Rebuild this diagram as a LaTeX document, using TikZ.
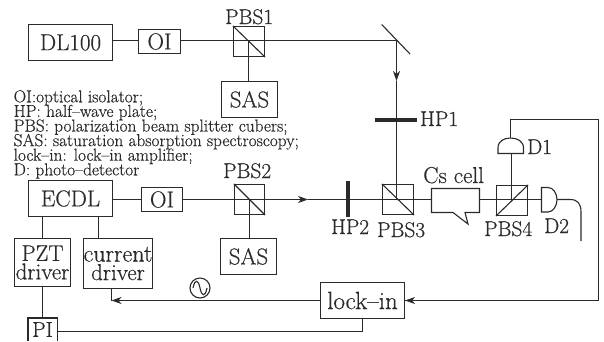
\documentclass[tikz,border=0pt]{standalone}
\usepackage{fontspec}
\setmainfont{Latin Modern Roman}[RawFeature={embolden=0.5}]
\usetikzlibrary{arrows.meta,calc}
\definecolor{ink}{HTML}{2A2A2A}
\newcommand{\fs}[2]{\fontsize{#1}{#2}\selectfont\lineskiplimit=-20pt\relax}
\tikzset{
  line/.style={draw=ink,line width=1.1pt},
  box/.style={draw=ink,line width=1.1pt,rectangle,inner sep=0pt,text=ink,font=\fs{23}{18.5},align=center},
  lab/.style={text=ink,inner sep=0pt,font=\fs{21.3}{21.3},anchor=base west},
  wave/.style={draw=ink,line width=3.6pt},
  arr/.style={line,-{Stealth[length=10pt,width=7pt,inset=3pt]}}
}
\begin{document}
\begin{tikzpicture}[x=1pt,y=-1pt]
\useasboundingbox (0,0) rectangle (604,341);
% boxes
\node[box,minimum width=84pt,minimum height=36pt] (dl) at (70.5,42.5) {DL100};
\node[box,minimum width=42pt,minimum height=24pt] (oia) at (159.5,41.5) {OI};
\node[box,minimum width=31pt,minimum height=30pt] (pbsa) at (249,41.5) {};
\node[box,minimum width=56pt,minimum height=36pt] (sasa) at (249.5,99.5) {SAS};
\node[box,minimum width=84pt,minimum height=36pt] (ecdl) at (70.5,198.5) {ECDL};
\node[box,minimum width=41pt,minimum height=24pt] (oib) at (162,199.5) {OI};
\node[box,minimum width=30pt,minimum height=30pt] (pbsb) at (249.5,199.5) {};
\node[box,minimum width=56pt,minimum height=36pt] (sasb) at (248.5,256.5) {SAS};
\node[box,minimum width=56pt,minimum height=48pt] (pzt) at (42.5,262.5) {\fs{22.5}{18}PZT\\driver};
\node[box,minimum width=67pt,minimum height=50pt] (cur) at (118,263.5) {\fs{24}{18.5}current\\driver};
\node[box,draw=none,font=\fs{21.5}{21.5},minimum width=28pt,minimum height=22pt] (pi) at (42.5,329.5) {PI};
\draw[line] (pi.south west) -- (pi.north west) -- (pi.north east) -- (pi.south east);
\node[box,minimum width=84pt,minimum height=36pt] (lock) at (362.5,300.5) {\fs{25}{25}lock--in};
\node[box,minimum width=31pt,minimum height=30pt] (pbsc) at (398,199.5) {};
\node[box,minimum width=31pt,minimum height=30pt] (pbsd) at (512,200.5) {};
% beam splitter diagonals
\draw[line] (pbsa.north west) -- (pbsa.south east);
\draw[line] (pbsb.north west) -- (pbsb.south east);
\draw[line] (pbsc.north west) -- (pbsc.south east);
\draw[line] (pbsd.south west) -- (pbsd.north east);
% labels
\node[lab] (lpbsa) at (225,24) {PBS1};
\node[lab] (lpbsb) at (223,178) {PBS2};
\node[lab] (lhpa) at (420,126) {HP1};
\node[lab] (lhpb) at (331,234) {HP2};
\node[lab] (lpbsc) at (377,237) {PBS3};
\node[lab] (lpbsd) at (484,236) {PBS4};
\node[lab,font=\fs{23}{23}] (lcs) at (423,183) {Cs cell};
\node[lab] (ldb) at (544,233) {D2};
\node[lab] (lda) at (527,154) {D1};
\node[anchor=north west,text=ink,inner sep=0pt,align=left,font=\fs{17.3}{14.6}] (legend) at (13.5,90)
 {OI:optical isolator;\\HP: half--wave plate;\\PBS: polarization beam splitter cubers;\\SAS: saturation absorption spectroscopy;\\lock--in: lock--in amplifier;\\D: photo--detector};
% optics
\coordinate (mira) at (381.7,24.5);
\coordinate (mirb) at (410,54);
\coordinate (mirc) at (396.5,40.5);
\draw[line] (mira) -- (mirb);
\coordinate (hpal) at (375,120);
\coordinate (hpar) at (417,120);
\coordinate (hpbt) at (348,181);
\coordinate (hpbb) at (348,217);
\draw[wave] (hpal) -- (hpar);
\draw[wave] (hpbt) -- (hpbb);
% Cs cell
\node[inner sep=0pt] (csl) at (431.5,199.5) {};
\node[inner sep=0pt] (csr) at (479.5,199.5) {};
\draw[line,line join=miter] (431.5,188.5) -- (479.5,188.5) -- (479.5,212.5) -- (465,212.5) -- (468,224) -- (453,212.5) -- (431.5,212.5) -- cycle;
% detectors
\coordinate (daw) at (510.5,119.5);
\coordinate (dab) at (511.5,153.5);
\coordinate (dat) at (510.5,138);
\draw[line] (498,153.5) -- (523.5,153.5) -- (523.5,148) .. controls (523.5,141) and (517,138) .. (510.5,138) .. controls (504,138) and (498,141) .. (498,148) -- cycle;
\coordinate (dbf) at (541.5,199.5);
\coordinate (dbr) at (557,199.5);
\draw[line] (541.5,187.5) -- (548,187.5) .. controls (553,187.5) and (557,193) .. (557,199.7) .. controls (557,206) and (553,212) .. (548,212) -- (541.5,212) -- cycle;
% beams
\coordinate (sasv) at (248.5,41);
\draw[line] (dl.east |- mirc) -- (oia.west |- mirc);
\draw[line] (oia.east |- mirc) -- (mirc);
\draw[line] (sasv |- mirc) -- (sasv |- sasa.north);
\coordinate (arra) at (396.5,81);
\draw[arr] (mirc) -- (arra);
\draw[line] (arra) -- (arra |- pbsc.center);
\draw[line] (ecdl.east |- oib.west) -- (oib.west);
\coordinate (arrb) at (308,199.5);
\draw[arr] (oib.east) -- (arrb);
\draw[line] (arrb) -- (pbsc.center);
\draw[line] (pbsb.center) -- (pbsb.center |- sasb.north);
\draw[line] (pbsc.center) -- (csl);
\draw[line] (csr) -- (dbf);
\draw[line] (dab |- csr) -- (dab);
% wires
\coordinate (wr) at (598.5,119.5);
\draw[line] (dat) -- (daw) -- (wr) -- (wr |- lock.east) -- (lock.east);
\draw[arr] (wr |- lock.east) -- (lock.east);
\draw[line] (dbr) -- (570,199.5) .. controls (578,199.5) and (581,204) .. (581,212) -- (581,241);
\coordinate (ea) at (42.5,216);
\coordinate (eb) at (98.5,216);
\draw[line] (ea) -- (ea |- pzt.north);
\draw[line] (eb) -- (eb |- cur.north);
\draw[line] (pzt.south -| ea) -- (pi.north -| ea);
\coordinate (cb) at (111.5,288);
\draw[line] (cb) -- (cb |- lock.west);
\draw[arr] (lock.west) -- (cb |- lock.west);
\coordinate (pe) at (56.5,331.5);
\coordinate (lb) at (362.5,318.5);
\draw[line] (pe) -- (lb |- pe) -- (lb);
% modulation source
\node[draw=ink,line width=1.1pt,circle,minimum size=20pt,inner sep=0pt] (sine) at (200,288) {};
\draw[line] ($(sine.center)+(-7,0)$) .. controls ($(sine.center)+(-5,-10)$) and ($(sine.center)+(-1.5,-8)$) .. (sine.center) .. controls ($(sine.center)+(1.5,8)$) and ($(sine.center)+(5,10)$) .. ($(sine.center)+(7,0)$);
\end{tikzpicture}
\end{document}
